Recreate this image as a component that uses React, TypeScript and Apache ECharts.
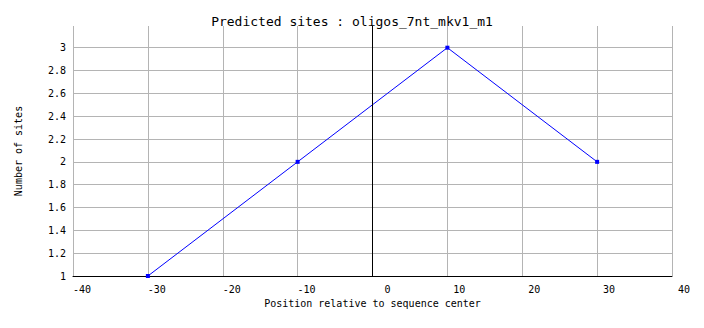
import React, { useEffect, useRef } from "react";
import * as echarts from "echarts";

const titleText = "Predicted sites : oligos_7nt_mkv1_m1";
const xName = "Position relative to sequence center";
const yName = "Number of sites";
const positions = [-30, -10, 10, 30];
const siteCounts = [1, 2, 3, 2];
const centerLine = [0];

const MONO = "DejaVu Sans Mono";
const GRID_GRAY = "#b4b4b4";

export default function App() {
  const ref = useRef<HTMLDivElement>(null);
  useEffect(() => {
    const chart = echarts.init(ref.current!, null, { renderer: "svg" });
    const ySplitColors = [...Array(11).fill(GRID_GRAY), "rgba(0,0,0,0)"];
    chart.setOption({
      animation: false,
      backgroundColor: "#fff",
      title: {
        text: titleText,
        left: "center",
        top: 10,
        textStyle: { fontFamily: MONO, fontSize: 13, fontWeight: "normal", color: "#000" },
      },
      grid: { left: 73, right: 32, top: 26, bottom: 52 },
      xAxis: {
        type: "value",
        min: -40,
        max: 40,
        interval: 10,
        name: xName,
        nameLocation: "middle",
        nameGap: 22,
        nameTextStyle: { fontFamily: MONO, fontSize: 10, color: "#000" },
        axisLine: { show: true, onZero: false, lineStyle: { color: "#000", width: 1 } },
        axisTick: { show: false },
        splitLine: { show: true, lineStyle: { color: GRID_GRAY, width: 1 } },
        axisLabel: {
          margin: 8,
          color: "#000",
          fontFamily: MONO,
          fontSize: 10,
          formatter: (v: number) => `{a|${v}}`,
          rich: { a: { width: 36, align: "right", fontFamily: MONO, fontSize: 10, color: "#000" } },
        },
      },
      yAxis: {
        type: "value",
        min: 1,
        max: 3.19,
        interval: 0.2,
        name: yName,
        nameLocation: "middle",
        nameRotate: 90,
        nameGap: 50,
        nameTextStyle: { fontFamily: MONO, fontSize: 10, color: "#000" },
        axisLine: { show: true, lineStyle: { color: "#000", width: 1 } },
        axisTick: { show: false },
        splitLine: { show: true, lineStyle: { color: ySplitColors, width: 1 } },
        axisLabel: {
          margin: 7,
          showMaxLabel: false,
          color: "#000",
          fontFamily: MONO,
          fontSize: 10,
          formatter: (v: number) => String(+v.toFixed(1)),
        },
      },
      series: [
        {
          type: "line",
          data: positions.map((p, i) => [p, siteCounts[i]]),
          symbol: "rect",
          symbolSize: 4,
          itemStyle: { color: "#0000ff" },
          lineStyle: { color: "#0000ff", width: 1 },
          markLine: {
            silent: true,
            symbol: "none",
            label: { show: false },
            lineStyle: { color: "#000", width: 1, type: "solid" },
            data: centerLine.map((c) => ({ xAxis: c })),
          },
        },
      ],
    });
    return () => chart.dispose();
  }, []);
  return (
    <div
      ref={ref}
      style={{ position: "fixed", left: 0, top: 0, width: 704, height: 328 }}
    />
  );
}
